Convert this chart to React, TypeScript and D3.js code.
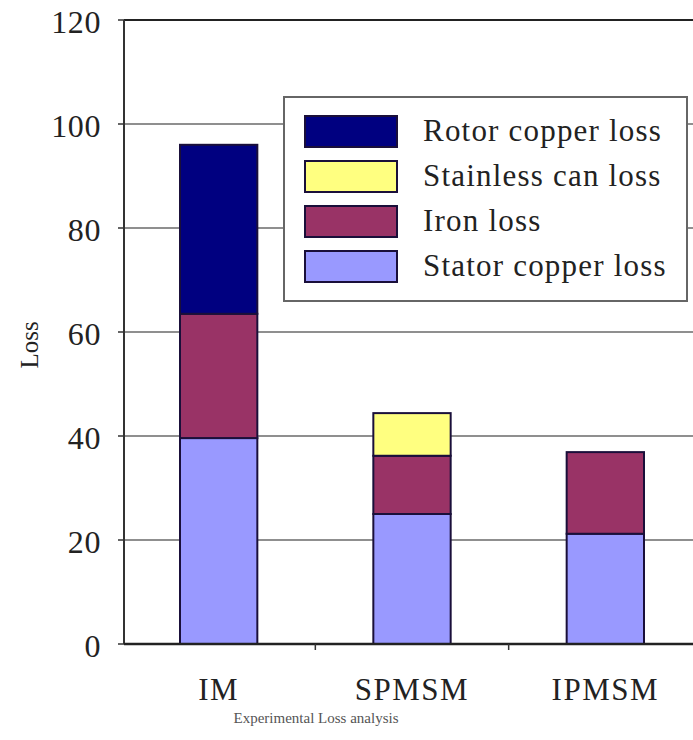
import React from "react";
import * as d3 from "d3";

const categories = ["IM", "SPMSM", "IPMSM"];
const seriesNames = ["Stator copper loss", "Iron loss", "Stainless can loss", "Rotor copper loss"];
const statorCopper = [39.6, 25, 21.2];
const ironLoss = [23.9, 11.2, 15.7];
const stainlessCan = [0, 8.2, 0];
const rotorCopper = [32.5, 0, 0];
const seriesColors = ["#9999FF", "#993366", "#FFFF80", "#000080"];
const yTicks = [0, 20, 40, 60, 80, 100, 120];
const legendOrder = [3, 2, 1, 0];

export default function App() {
  const W = 693, H = 740;
  const left = 124, top = 20, bottom = 644, right = 702;
  const x = d3.scaleBand<string>().domain(categories).range([left - 2, right]).paddingInner(0.6).paddingOuter(0.3);
  const y = d3.scaleLinear().domain([0, 120]).range([bottom, top]);
  const rows = categories.map((c, i) => ({
    cat: c,
    s0: statorCopper[i], s1: ironLoss[i], s2: stainlessCan[i], s3: rotorCopper[i],
  }));
  const stack = d3.stack<any>().keys(["s0", "s1", "s2", "s3"])(rows);
  const font = "'Liberation Serif', 'Times New Roman', serif";
  return (
    <svg width={W} height={H} style={{ position: "absolute", left: 0, top: 0, background: "#fff" }}>
      <rect width={W} height={H} fill="#fff" />
      {yTicks.filter(t => t > 0).map(t => (
        <line key={t} x1={left} x2={W} y1={y(t)} y2={y(t)} stroke={t === 120 ? "#222" : "#6a6a6a"} strokeWidth={t === 120 ? 2 : 1.4} />
      ))}
      {yTicks.map(t => (
        <g key={"t" + t}>
          <line x1={left - 6} x2={left} y1={y(t)} y2={y(t)} stroke="#333" strokeWidth={1.5} />
          <text x={101} y={y(t) + 1} dy="0.36em" textAnchor="end" fontFamily={font} fontSize={32} letterSpacing={0.6} fill="#222">{t}</text>
        </g>
      ))}
      {stack.map((layer, li) =>
        layer.map((d, ci) => {
          const h = y(d[0]) - y(d[1]);
          if (h <= 0.01) return null;
          return (
            <rect key={li + "-" + ci} x={x(categories[ci])!} width={x.bandwidth()} y={y(d[1])} height={h}
              fill={seriesColors[li]} stroke="#1a0f3a" strokeWidth={2} />
          );
        })
      )}
      <line x1={left} x2={left} y1={top} y2={bottom} stroke="#333" strokeWidth={2} />
      <line x1={left} x2={W} y1={bottom} y2={bottom} stroke="#222" strokeWidth={2.5} />
      {[1, 2].map(i => {
        const bx = (x(categories[i - 1])! + x.bandwidth() + x(categories[i])!) / 2;
        return <line key={"bt" + i} x1={bx} x2={bx} y1={bottom} y2={bottom + 6} stroke="#333" strokeWidth={1.5} />;
      })}
      {categories.map(c => (
        <text key={c} x={x(c)! + x.bandwidth() / 2} y={700} textAnchor="middle" fontFamily={font} fontSize={31} letterSpacing={1.5} fill="#222">{c}</text>
      ))}
      <text x={316} y={723} textAnchor="middle" fontFamily={font} fontSize={15} fill="#555">Experimental Loss analysis</text>
      <text transform={`translate(38,${345}) rotate(-90)`} textAnchor="middle" fontFamily={font} fontSize={25} fill="#222">Loss</text>
      <g>
        <rect x={284} y={97} width={403} height={204} fill="#fff" stroke="#666" strokeWidth={2} />
        {legendOrder.map((si, k) => (
          <g key={"lg" + si}>
            <rect x={305} y={116 + k * 45} width={92} height={31} fill={seriesColors[si]} stroke="#1a0f3a" strokeWidth={2} />
            <text x={423} y={130 + k * 45} dy="0.36em" fontFamily={font} fontSize={31} letterSpacing={1.2} fill="#222">{seriesNames[si]}</text>
          </g>
        ))}
      </g>
    </svg>
  );
}
